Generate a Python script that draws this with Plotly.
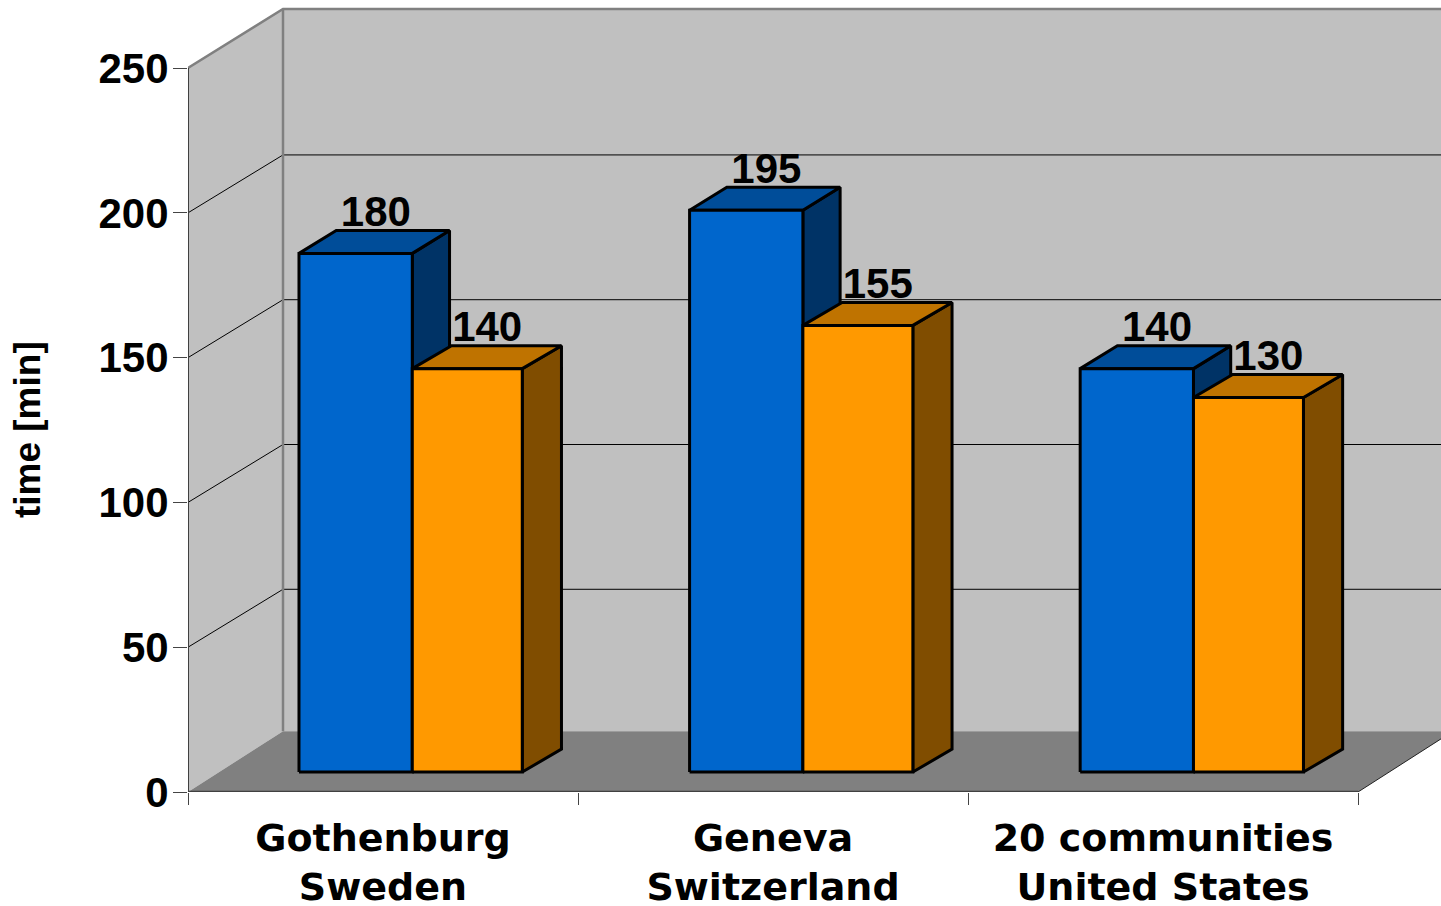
import plotly.graph_objects as go

# Chart data
categories = ["Gothenburg<br>Sweden", "Geneva<br>Switzerland", "20 communities<br>United States"]
series_blue = [180, 195, 140]
series_orange = [140, 155, 130]
y_ticks = [0, 50, 100, 150, 200, 250]
y_title = "time [min]"

# Oblique projection of the chart box, in axis units
WALL_DX, WALL_DY = 0.2436, 20.4      # depth of the side wall
FLOOR_DY = 21.0                      # rise of the floor's back edge
GRID_DY = 20.0                       # rise of the gridlines along the side wall
BAR_BASE = 6.9                       # bars stand a little way back on the floor
BAR_SCALE = 0.995                    # bars sit behind the axis plane
BAR_LEFT = 0.2846                    # left edge of a cluster inside its category
CLUSTER_STEP = 1.0015
BLUE_W, ORANGE_W = 0.2905, 0.282
BLUE_DX, ORANGE_DX = 0.0955, 0.1005  # bar depth, horizontal
BAR_DY = 7.9                         # bar depth, vertical
LABEL_DROP = 2.0                     # pulls the value labels down onto the bar tops
Y_MAX, X_MAX = 273.5, 3.2128

WALL = "#C0C0C0"
FLOOR = "#808080"
EDGE = "#808080"
AXIS = "#404040"
BLUE = ("#0066CC", "#004D99", "#003366")
ORANGE = ("#FF9900", "#BF7300", "#804D00")

NUM_FONT = dict(family="Liberation Sans", size=42, color="black", weight="bold")
CAT_FONT = dict(family="DejaVu Sans", size=38, color="black", weight="bold")

fig = go.Figure()


def polygon(xs, ys, fill, line="black", width=3):
    fig.add_trace(go.Scatter(
        x=xs + xs[:1], y=ys + ys[:1], mode="lines", fill="toself", fillcolor=fill,
        line=dict(color=line, width=width), hoverinfo="skip", showlegend=False,
    ))


def segment(xs, ys, color="black", width=1):
    fig.add_trace(go.Scatter(
        x=xs, y=ys, mode="lines", line=dict(color=color, width=width),
        hoverinfo="skip", showlegend=False, cliponaxis=False,
    ))


def bar(x0, w, dx, value, colors):
    y0 = BAR_BASE
    y1 = BAR_BASE + value * BAR_SCALE
    polygon([x0 + w, x0 + w + dx, x0 + w + dx, x0 + w],
            [y0, y0 + BAR_DY, y1 + BAR_DY, y1], colors[2])
    polygon([x0, x0 + dx, x0 + w + dx, x0 + w],
            [y1, y1 + BAR_DY, y1 + BAR_DY, y1], colors[1])
    polygon([x0, x0 + w, x0 + w, x0], [y0, y0, y1, y1], colors[0])


top = y_ticks[-1]

# Walls and floor
polygon([0, WALL_DX, WALL_DX, 0], [0, FLOOR_DY, top + WALL_DY, top], WALL, line=WALL, width=0)
polygon([WALL_DX, X_MAX, X_MAX, WALL_DX], [FLOOR_DY, FLOOR_DY, top + WALL_DY, top + WALL_DY],
        WALL, line=WALL, width=0)
polygon([0, 3, 3 + WALL_DX, WALL_DX], [0, 0, FLOOR_DY, FLOOR_DY], FLOOR, line=FLOOR, width=0)

# Gridlines across the side and back walls
for v in y_ticks[1:-1]:
    segment([0, WALL_DX, X_MAX], [v, v + GRID_DY, v + GRID_DY])

# Wall edges
segment([0, WALL_DX, X_MAX], [top, top + WALL_DY, top + WALL_DY], EDGE, 2.5)
segment([WALL_DX, WALL_DX], [FLOOR_DY, top + WALL_DY], EDGE, 2.5)
segment([3, 3 + WALL_DX], [0, FLOOR_DY], "#222222", 1)

# Axis lines stop at the first and last ticks
segment([0, 0], [0, top], AXIS, 2)
segment([0, 3], [0, 0], AXIS, 2.5)

# Bars, left to right inside each cluster
label_x, label_y, label_text = [], [], []
for i, (b, o) in enumerate(zip(series_blue, series_orange)):
    x_blue = i * CLUSTER_STEP + BAR_LEFT
    x_orange = x_blue + BLUE_W
    bar(x_blue, BLUE_W, BLUE_DX, b, BLUE)
    bar(x_orange, ORANGE_W, ORANGE_DX, o, ORANGE)
    label_x += [x_blue + 0.197, x_orange + 0.192]
    label_y += [BAR_BASE + b * BAR_SCALE + BAR_DY - LABEL_DROP,
                BAR_BASE + o * BAR_SCALE + BAR_DY - LABEL_DROP]
    label_text += [str(b), str(o)]

fig.add_trace(go.Scatter(
    x=label_x, y=label_y, text=label_text, mode="text", textposition="top center",
    textfont=NUM_FONT, hoverinfo="skip", showlegend=False, cliponaxis=False,
))

fig.add_annotation(
    text=y_title, textangle=-90, xref="paper", yref="paper", showarrow=False,
    x=-0.1275, y=0.4573, xanchor="center", yanchor="middle",
    font=dict(family="Liberation Sans", size=37, color="black", weight="bold"),
)

fig.update_layout(
    width=1441, height=906,
    margin=dict(l=188, r=0, t=0, b=114, autoexpand=False),
    paper_bgcolor="white", plot_bgcolor="white",
    showlegend=False,
    xaxis=dict(
        range=[0, X_MAX], showgrid=False, zeroline=False, showline=False,
        tickvals=[0.5, 1.5, 2.5], ticktext=categories, ticks="",
        ticklabelstandoff=20, tickfont=CAT_FONT,
        minor=dict(tickvals=[0, 1, 2, 3], ticks="outside", ticklen=12,
                   tickcolor="#444444", tickwidth=1, showgrid=False),
    ),
    yaxis=dict(
        range=[0, Y_MAX], showgrid=False, zeroline=False, showline=False,
        tickvals=y_ticks, ticks="outside", ticklen=14,
        tickcolor="#444444", tickwidth=1, tickfont=NUM_FONT,
        ticklabelstandoff=-4,
    ),
)

fig.write_html("out.html", config=dict(displayModeBar=False))
